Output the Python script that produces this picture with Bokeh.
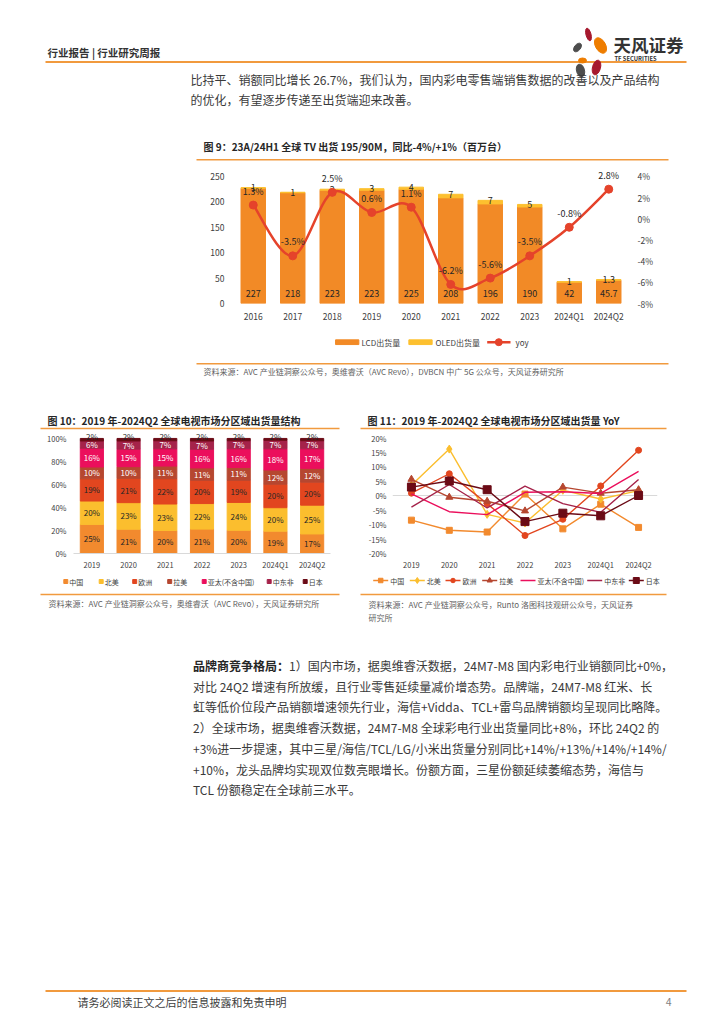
from bokeh.plotting import figure
from bokeh.models import (Range1d, LinearAxis, FixedTicker, PrintfTickFormatter, ColumnDataSource)
from bokeh.layouts import column, row
from bokeh.core.properties import value
from bokeh.embed import file_html
from bokeh.resources import INLINE

CJK = "Noto Sans CJK SC"

# ---------------- data: figure 9 ----------------
years9 = ["2016", "2017", "2018", "2019", "2020", "2021", "2022", "2023", "2024Q1", "2024Q2"]
lcd = [227, 218, 223, 223, 225, 208, 196, 190, 42, 45.7]
oled = [1, 1, 2, 3, 4, 7, 7, 5, 1, 1.3]
yoy = [1.3, -3.5, 2.5, 0.6, 1.1, -6.2, -5.6, -3.5, -0.8, 2.8]
ticks9_left = [0, 50, 100, 150, 200, 250]
ticks9_right = [-8, -6, -4, -2, 0, 2, 4]
legend9 = ["LCD出货量", "OLED出货量", "yoy"]

# ---------------- data: figure 10 ----------------
years10 = ["2019", "2020", "2021", "2022", "2023", "2024Q1", "2024Q2"]
regions = ["中国", "北美", "欧洲", "拉美", "亚太(不含中国)", "中东非", "日本"]
share_cn = [25.3, 21.1, 20, 21.2, 20.2, 19.4, 17]
share_na = [20.3, 23.1, 23, 22.2, 24.2, 20.4, 25]
share_eu = [19.3, 21.1, 22, 20.2, 19.2, 20.4, 20]
share_la = [10.3, 10.2, 11, 10.8, 11.2, 12.4, 12]
share_ap = [16.3, 15.2, 15, 16.2, 16.2, 18.4, 17]
share_mea = [6.3, 7.1, 7, 7.2, 7.0, 7.4, 7]
share_jp = [2.2, 2.2, 2, 2.2, 2.0, 1.6, 2]
ticks10 = [0, 20, 40, 60, 80, 100]

# ---------------- data: figure 11 ----------------
yoy_cn = [-8.5, -12.0, -12.6, 0.5, -11.5, -3.0, -11.0]
yoy_na = [3.5, 16.0, -6.5, -9.5, 1.8, -1.2, 1.7]
yoy_eu = [0.8, 7.5, -2.8, -13.8, -8.2, 3.3, 15.6]
yoy_la = [5.6, -0.6, -2.0, -5.3, 2.9, 0.8, 2.0]
yoy_ap = [0.6, -5.6, -6.6, 1.1, 1.3, 0.7, 8.3]
yoy_mea = [-4.0, 3.8, -4.3, 3.2, -2.8, -5.8, 5.5]
yoy_jp = [2.9, 5.0, 2.0, -9.0, -6.1, -7.0, 0.0]
ticks11 = [-20, -15, -10, -5, 0, 5, 10, 15, 20]

# ---------------- texts ----------------
header_txt = "行业报告 | 行业研究周报"
logo_cn = "天风证券"
logo_en = "TF SECURITIES"
para1 = ["比持平、销额同比增长 26.7%，我们认为，国内彩电零售端销售数据的改善以及产品结构",
         "的优化，有望逐步传递至出货端迎来改善。"]
title9 = "图 9：23A/24H1 全球 TV 出货 195/90M，同比-4%/+1%（百万台）"
src9_txt = "资料来源：AVC 产业链洞察公众号，奥维睿沃（AVC  Revo），DVBCN 中广 5G 公众号，天风证券研究所"
title10 = "图 10：2019 年-2024Q2 全球电视市场分区域出货量结构"
title11 = "图 11：2019 年-2024Q2 全球电视市场分区域出货量 YoY"
src10_txt = "资料来源：AVC 产业链洞察公众号，奥维睿沃（AVC  Revo），天风证券研究所"
src11_txt = ["资料来源：AVC 产业链洞察公众号，Runto 洛图科技观研公众号，天风证券", "研究所"]
para2_bold = "品牌商竞争格局："
para2 = ["1）国内市场，据奥维睿沃数据，24M7-M8 国内彩电行业销额同比+0%，",
         "对比 24Q2 增速有所放缓，且行业零售延续量减价增态势。品牌端，24M7-M8 红米、长",
         "虹等低价位段产品销额增速领先行业，海信+Vidda、TCL+雷鸟品牌销额均呈现同比略降。",
         "2）全球市场，据奥维睿沃数据，24M7-M8 全球彩电行业出货量同比+8%，环比 24Q2 的",
         "+3%进一步提速，其中三星/海信/TCL/LG/小米出货量分别同比+14%/+13%/+14%/+14%/",
         "+10%，龙头品牌均实现双位数亮眼增长。份额方面，三星份额延续萎缩态势，海信与",
         "TCL 份额稳定在全球前三水平。"]
footer_txt = "请务必阅读正文之后的信息披露和免责申明"
page_no = "4"

# ---------------- styles ----------------
ORANGE_LINE = "#F19A3E"
TXT = "#3A3A3A"
GRAY = "#5F5F5F"
LEG = "#404040"
C_LCD = "#F28A26"
C_OLED = "#FDC02F"
C_RED = "#E5432B"
COLORS = ["#F28A2E", "#FBBE2E", "#E2461F", "#B64730", "#EB0F5C", "#A5234A", "#6B0B16"]
LABEL_COL10 = ["#262626", "#262626", "#262626", "#FFFFFF", "#FFFFFF", "#FFFFFF", "#262626"]
markers11 = ["square", "diamond", "circle", "triangle", None, None, "square"]
msizes11 = [6, 8, 6, 7, 0, 0, 8]


def canvas(x0, x1, y0, y1):
    # page-coordinate canvas (data y = -page y)
    p = figure(width=x1 - x0, height=y1 - y0, x_range=Range1d(x0, x1), y_range=Range1d(-y1, -y0),
               x_axis_type=None, y_axis_type=None, toolbar_location=None, output_backend="svg",
               min_border=0, outline_line_color=None, title=None, frame_align=False)
    p.background_fill_color = "white"
    p.border_fill_color = "white"
    return p


def txt(p, x, y, s, size, color=TXT, bold=False, align="left"):
    p.text(x=[x], y=[-y], text=[s], text_font=value(CJK), text_font_size=f"{size}px",
           text_color=color, text_align=align, text_baseline="middle",
           text_font_style="bold" if bold else "normal")


def hline(p, x0, x1, y, color=ORANGE_LINE, w=1.5):
    p.line(x=[x0, x1], y=[-y, -y], line_color=color, line_width=w)


def style_axis(ax, size, standoff):
    ax.axis_line_color = None
    ax.major_tick_line_color = None
    ax.minor_tick_line_color = None
    ax.major_tick_out = 0
    ax.major_tick_in = 0
    ax.minor_tick_out = 0
    ax.minor_tick_in = 0
    ax.major_label_text_font = CJK
    ax.major_label_text_font_size = f"{size}px"
    ax.major_label_text_color = "#404040"
    ax.major_label_standoff = standoff


def chart(width, height, xr, yr, bl, br, bt, bb):
    return figure(width=width, height=height, x_range=xr, y_range=yr, title=None,
                  toolbar_location=None, output_backend="svg", min_border_left=bl,
                  min_border_right=br, min_border_top=bt, min_border_bottom=bb,
                  outline_line_color=None, frame_align=False)


# ================= R1: header / text / fig9 title (page y 0..166) =================
r1 = canvas(0, 724, 0, 166)
txt(r1, 47, 52, header_txt, 10.5, "#333333", bold=True)
hline(r1, 45, 686, 61.5, ORANGE_LINE, 2)
r1.ellipse(x=[588, 577, 600, 582, 596, 580], y=[-34, -47, -45, -60, -67, -70],
           width=[5, 6, 10, 8, 8, 8], height=[13, 10, 17, 5, 15, 13],
           angle=[15, -40, 30, 0, -15, 15], angle_units="deg",
           color=["#A6192E", "#4D4D4D", "#EE7D00", "#EE7D00", "#A6192E", "#4D4D4D"])
txt(r1, 613, 44, logo_cn, 17.5, "#333333", bold=True)
txt(r1, 614, 57.5, logo_en, 5.8, "#333333", bold=True)
txt(r1, 190, 78.5, para1[0], 12)
txt(r1, 190, 99, para1[1], 12)
txt(r1, 203, 146, title9, 10, "#262626", bold=True)
hline(r1, 196, 668, 159.3)

# ================= Figure 9 (page y 166..326) =================
x9 = list(range(len(years9)))
src9 = ColumnDataSource(dict(
    x=x9, lcd=lcd, oled=oled, top=[a + b for a, b in zip(lcd, oled)], yoy=yoy,
    base=[0] * len(x9), lcd_lab=[f"{v:g}" for v in lcd], oled_lab=[f"{v:g}" for v in oled],
    yoy_lab=[f"{v:.1f}%" for v in yoy]))
p9 = chart(724, 160, Range1d(-0.5, 9.5), Range1d(0, 261.8), 233, 96, 4, 23)
p9.extra_y_ranges = {"yoy": Range1d(-8, -8 + 12 * 261.8 / 250)}
p9.grid.visible = False
p9.vbar_stack(["lcd", "oled"], x="x", width=0.62, color=[C_LCD, C_OLED], source=src9)
p9.text(x="x", y="base", text="lcd_lab", source=src9, y_offset=-10, text_align="center",
        text_baseline="middle", text_font=value(CJK), text_font_size="9px", text_color="#262626")
p9.text(x="x", y="top", text="oled_lab", source=src9, text_align="center",
        text_baseline="middle", text_font=value(CJK), text_font_size="9px", text_color="#262626")
# smooth yoy curve (cubic Bezier segments through the data points)
n9 = len(yoy)
pts = [(i, yoy[i]) for i in range(n9)]
def P(i):
    return pts[min(max(i, 0), n9 - 1)]
bz = dict(x0=[], y0=[], x1=[], y1=[], cx0=[], cy0=[], cx1=[], cy1=[])
for i in range(n9 - 1):
    a, b, c, d = P(i - 1), P(i), P(i + 1), P(i + 2)
    bz["x0"].append(b[0]); bz["y0"].append(b[1]); bz["x1"].append(c[0]); bz["y1"].append(c[1])
    bz["cx0"].append(b[0] + (c[0] - a[0]) / 6); bz["cy0"].append(b[1] + (c[1] - a[1]) / 6)
    bz["cx1"].append(c[0] - (d[0] - b[0]) / 6); bz["cy1"].append(c[1] - (d[1] - b[1]) / 6)
p9.bezier(source=ColumnDataSource(bz), x0="x0", y0="y0", x1="x1", y1="y1", cx0="cx0",
          cy0="cy0", cx1="cx1", cy1="cy1", line_color=C_RED, line_width=2.5, y_range_name="yoy")
p9.scatter(x="x", y="yoy", source=src9, size=8, color=C_RED, y_range_name="yoy")
p9.text(x="x", y="yoy", text="yoy_lab", source=src9, y_offset=-14, text_align="center",
        text_baseline="middle", text_font=value(CJK), text_font_size="9px", text_color="#262626",
        y_range_name="yoy")
p9.yaxis.ticker = FixedTicker(ticks=ticks9_left)
style_axis(p9.yaxis[0], 8.5, 9)
p9.xaxis.ticker = FixedTicker(ticks=x9)
p9.xaxis.major_label_overrides = {i: s for i, s in enumerate(years9)}
style_axis(p9.xaxis[0], 8.5, 6)
ax9r = LinearAxis(y_range_name="yoy", ticker=FixedTicker(ticks=ticks9_right),
                  formatter=PrintfTickFormatter(format="%d%%"))
style_axis(ax9r, 8.5, 9)
p9.add_layout(ax9r, "right")

# ================= R3 (page y 326..432): fig9 legend/source, fig10/11 titles =================
r3 = canvas(0, 724, 326, 432)
ly = 341.7
r3.rect(x=[346.7, 420], y=[-ly, -ly], width=[23.3, 23.3], height=[4.7, 4.7],
        color=[C_LCD, C_OLED])
txt(r3, 361, ly, legend9[0], 8, LEG)
txt(r3, 435, ly, legend9[1], 8, LEG)
hline(r3, 486.7, 510, ly, C_RED, 2.5)
r3.scatter(x=[498.3], y=[-ly], size=7, color=C_RED)
txt(r3, 515, ly, legend9[2], 8, LEG)
hline(r3, 196, 668, 363.3)
txt(r3, 203, 371, src9_txt, 8, GRAY)
txt(r3, 47, 420, title10, 10, "#262626", bold=True)
hline(r3, 40, 339, 428)
txt(r3, 367, 420, title11, 10, "#262626", bold=True)
hline(r3, 360, 666, 428)

# ================= Figure 10 (page x 0..350, y 432..572) =================
x10 = list(range(len(years10)))
series10 = [share_cn, share_na, share_eu, share_la, share_ap, share_mea, share_jp]
keys10 = ["cn", "na", "eu", "la", "ap", "mea", "jp"]
src10 = ColumnDataSource(dict(x=x10, **{k: v for k, v in zip(keys10, series10)}))
p10 = chart(350, 140, Range1d(-0.5, 6.5), Range1d(0, 105.17), 73, 20, 0, 18)
p10.grid.visible = False
p10.vbar_stack(keys10, x="x", width=0.63, color=COLORS, source=src10)
cum = [0.0] * len(x10)
for k, (vals, col) in enumerate(zip(series10, LABEL_COL10)):
    last = k == len(series10) - 1
    ys = [c + v for c, v in zip(cum, vals)] if last else [c + v / 2 for c, v in zip(cum, vals)]
    p10.text(x=x10, y=ys, text=[f"{v:.0f}%" for v in vals], text_align="center",
             y_offset=-2 if last else 0,
             text_baseline="middle", text_font=value(CJK), text_font_size="8px", text_color=col)
    cum = [c + v for c, v in zip(cum, vals)]
p10.yaxis.ticker = FixedTicker(ticks=ticks10)
p10.yaxis.formatter = PrintfTickFormatter(format="%d%%")
style_axis(p10.yaxis[0], 7.5, 7)
p10.xaxis.ticker = FixedTicker(ticks=x10)
p10.xaxis.major_label_overrides = {i: s for i, s in enumerate(years10)}
style_axis(p10.xaxis[0], 7.5, 5)
p10.xaxis.axis_line_color = "#D9D9D9"

# ================= Figure 11 (page x 350..724, y 432..572) =================
x11 = list(range(len(years10)))
series11 = [yoy_cn, yoy_na, yoy_eu, yoy_la, yoy_ap, yoy_mea, yoy_jp]
p11 = chart(374, 140, Range1d(-0.5, 6.5), Range1d(-20, 20), 42, 67, 5, 18)
p11.xgrid.visible = False
p11.ygrid.ticker = FixedTicker(ticks=[0])
p11.ygrid.grid_line_color = "#D9D9D9"
for vals, col, mk, ms in zip(series11, COLORS, markers11, msizes11):
    p11.line(x=x11, y=vals, line_color=col, line_width=1.4)
    if mk:
        p11.scatter(x=x11, y=vals, marker=mk, size=ms, color=col)
p11.yaxis.ticker = FixedTicker(ticks=ticks11)
p11.yaxis.formatter = PrintfTickFormatter(format="%d%%")
style_axis(p11.yaxis[0], 7.5, 6)
p11.xaxis.ticker = FixedTicker(ticks=x11)
p11.xaxis.major_label_overrides = {i: s for i, s in enumerate(years10)}
style_axis(p11.xaxis[0], 7.5, 5)

# ================= R5 (page y 572..1023) =================
r5 = canvas(0, 724, 572, 1023)
leg10_x = [65.3, 100.7, 134.2, 169.2, 203.7, 268.7, 304.7]
r5.rect(x=leg10_x, y=[-581] * 7, width=4, height=4, color=COLORS)
for xm, name in zip(leg10_x, regions):
    txt(r5, xm + 3.5, 581, name, 7, LEG)
leg11_x0 = [372.7, 409.3, 445, 481.7, 520, 586.7, 628.3]
for x0, name, col, mk, ms in zip(leg11_x0, regions, COLORS, markers11, msizes11):
    hline(r5, x0, x0 + 15, 580, col, 1.5)
    if mk:
        r5.scatter(x=[x0 + 7.5], y=[-580], marker=mk, size=ms * 0.75, color=col)
    txt(r5, x0 + 17, 580, name, 7, LEG)
hline(r5, 40, 339, 594)
hline(r5, 360, 666, 594)
txt(r5, 48, 603, src10_txt, 8, GRAY)
txt(r5, 368, 604, src11_txt[0], 8, GRAY)
txt(r5, 368, 617, src11_txt[1], 8, GRAY)
y_line = 665
txt(r5, 192.5, y_line, para2_bold, 12, "#262626", bold=True)
txt(r5, 192.5 + 12 * len(para2_bold), y_line, para2[0], 12)
for k, line in enumerate(para2[1:], start=1):
    txt(r5, 192.5, y_line + 20.7 * k, line, 12)
hline(r5, 45, 686, 990.5, ORANGE_LINE, 2)
txt(r5, 77, 1001, footer_txt, 11, "#404040")
txt(r5, 671, 1001, page_no, 10.5, "#7F7F7F", align="right")

layout = column(r1, p9, r3, row(p10, p11), r5)
open("out.html", "w").write(file_html(layout, INLINE))
